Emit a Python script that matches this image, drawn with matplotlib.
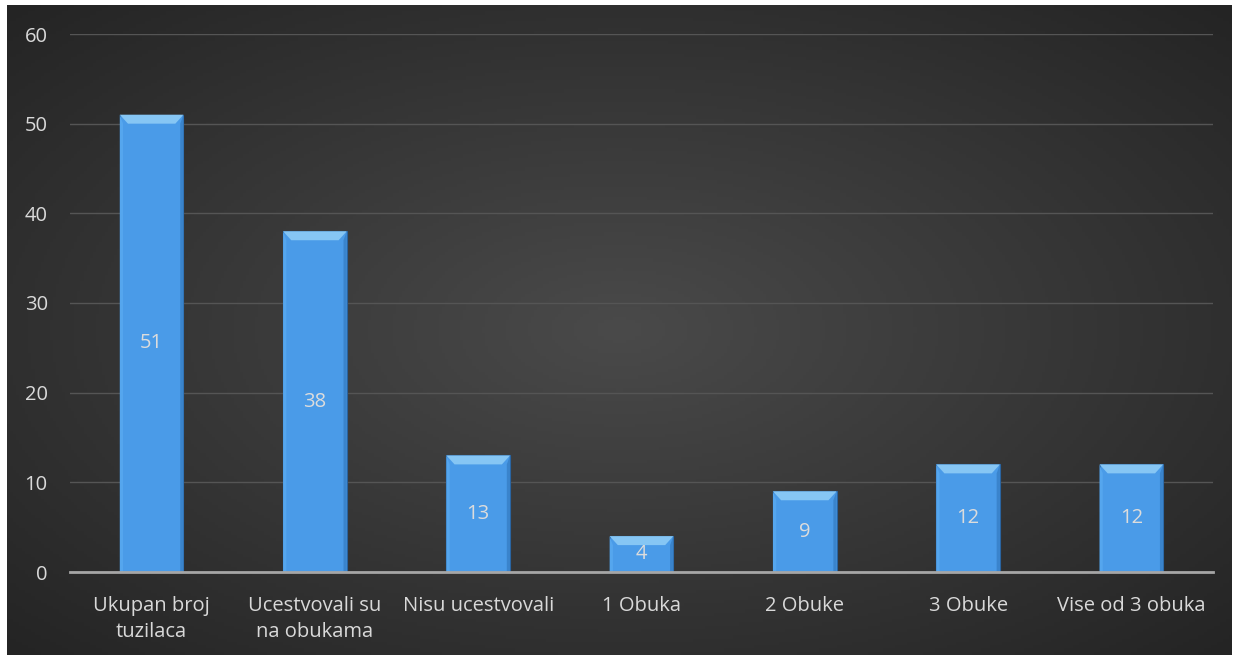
import numpy as np
import matplotlib
matplotlib.use("Agg")
import matplotlib.pyplot as plt
from matplotlib.patches import Polygon

categories = ["Ukupan broj\ntuzilaca", "Ucestvovali su\nna obukama", "Nisu ucestvovali",
              "1 Obuka", "2 Obuke", "3 Obuke", "Vise od 3 obuka"]
values = [51, 38, 13, 4, 9, 12, 12]
yticks = [0, 10, 20, 30, 40, 50, 60]

plt.rcParams['font.family'] = ['Open Sans', 'DejaVu Sans']

W, H = 1244, 660
fig = plt.figure(figsize=(W/100, H/100), dpi=100, facecolor="white")

# background with radial gradient
bg = fig.add_axes([7/W, 5/H, (1232-7)/W, (655-5)/H])
ny, nx = 200, 400
yy, xx = np.mgrid[-1:1:ny*1j, -1:1:nx*1j]
r = np.sqrt(xx**2 + yy**2) / np.sqrt(2)
c0 = np.array([0x4a, 0x4a, 0x4a]) / 255
c1 = np.array([0x24, 0x24, 0x24]) / 255
img = c0[None, None, :] * (1 - r[..., None]) + c1[None, None, :] * r[..., None]
bg.imshow(img, aspect="auto", extent=[0, 1, 0, 1])
bg.axis("off")

# main axes
x0, x1 = 70, 1213
y0, y1 = 572, 34
ax = fig.add_axes([x0/W, (H-y0)/H, (x1-x0)/W, (y0-y1)/H])
ax.set_facecolor("none")
ax.set_ylim(0, 60)
ax.set_xlim(-0.5, len(categories) - 0.5)

xs = np.arange(len(categories))
bw = 0.39
bars = ax.bar(xs, values, width=bw, color="#4a9be8", edgecolor="#2a64a0",
              linewidth=0.8, zorder=3)

# bevel on top and sides
bev_y = 1.0
bev_x = 0.05
for b in bars:
    xl = b.get_x(); xr = xl + b.get_width(); h = b.get_height()
    top = Polygon([[xl, h], [xr, h], [xr - bev_x, h - bev_y], [xl + bev_x, h - bev_y]],
                  closed=True, facecolor="#86c6f4", edgecolor="none", zorder=4)
    ax.add_patch(top)
    left = Polygon([[xl, h], [xl + bev_x * 0.4, h - bev_y], [xl + bev_x * 0.4, 0], [xl, 0]],
                   closed=True, facecolor="#55a6ee", edgecolor="none", zorder=4)
    ax.add_patch(left)
    right = Polygon([[xr, h], [xr - bev_x * 0.4, h - bev_y], [xr - bev_x * 0.4, 0], [xr, 0]],
                    closed=True, facecolor="#3a84cc", edgecolor="none", zorder=4)
    ax.add_patch(right)
    ax.text(b.get_x() + b.get_width()/2, h/2, f"{int(h)}", ha="center", va="center",
            color="#dcdcdc", fontsize=14.5, zorder=5)

ax.set_yticks(yticks)
ax.set_yticklabels([str(t) for t in yticks])
ax.set_xticks(xs)
ax.set_xticklabels(categories, linespacing=1.45)
ax.grid(axis="y", color="#555555", linewidth=1.0, zorder=0)
ax.tick_params(axis="both", length=0, colors="#d9d9d9", labelsize=14.5)
ax.tick_params(axis="x", pad=17)
ax.tick_params(axis="y", pad=16)
for s in ["top", "right", "left"]:
    ax.spines[s].set_visible(False)
ax.spines["bottom"].set_color("#a6a6a6")
ax.spines["bottom"].set_linewidth(2)
ax.spines["bottom"].set_zorder(6)

fig.savefig("out.png", dpi=100, facecolor="white")
